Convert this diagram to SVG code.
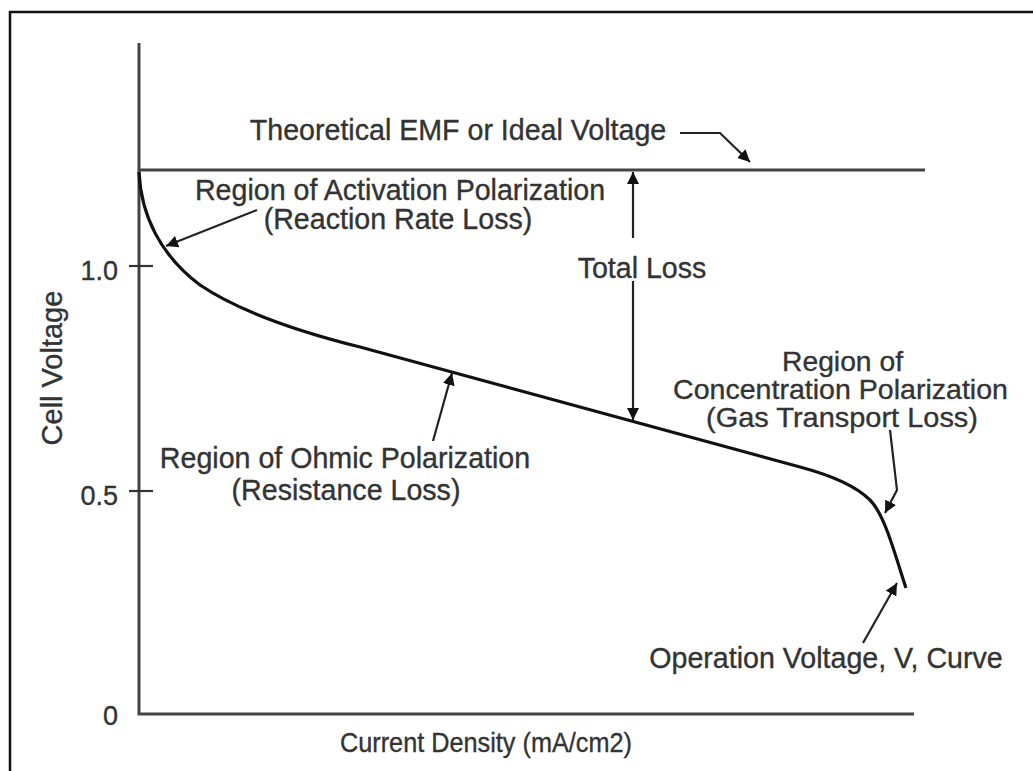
<svg xmlns="http://www.w3.org/2000/svg" width="1033" height="771" viewBox="0 0 1033 771">
<style>
  .t { font-family: "Liberation Sans", Arial, sans-serif; font-size: 28.6px; fill: #333; stroke: #333; stroke-width: 0.35; }
  .s { font-size: 27px; }
  .c { font-size: 27.5px; }
  .m { text-anchor: middle; }
  .e { text-anchor: end; }
  .axis { stroke: #444; stroke-width: 3; fill: none; }
  .ln { stroke: #333; stroke-width: 2.2; fill: none; }
  .arr { stroke: #222; stroke-width: 2.2; fill: none; marker-end: url(#ah); }
  .curve { stroke: #111; stroke-width: 3.2; fill: none; }
</style>
<defs>
  <marker id="ah" viewBox="0 0 10 10" refX="10" refY="5" markerWidth="5.5" markerHeight="5.5" orient="auto" markerUnits="strokeWidth">
    <path d="M0,0 L10,5 L0,10 z" fill="#111"/>
  </marker>
</defs>
<rect width="1033" height="771" fill="#fff"/>
<path d="M10,771 L10,12 L1033,12" stroke="#111" stroke-width="2.5" fill="none"/>

<g id="axes">
  <path class="axis" d="M139,43 L139,714 L914,714"/>
  <line class="ln" x1="129" y1="266" x2="153" y2="266"/>
  <line class="ln" x1="129" y1="491" x2="153" y2="491"/>
  <text class="t s e" x="118" y="280">1.0</text>
  <text class="t s e" x="118" y="505">0.5</text>
  <text class="t s e" x="118" y="725">0</text>
  <text class="t" x="340" y="752" style="font-size:28px" textLength="292" lengthAdjust="spacingAndGlyphs">Current Density (mA/cm2)</text>
  <text class="t m" transform="translate(62,368) rotate(-90)" style="font-size:29px">Cell Voltage</text>
</g>

<g id="emf">
  <line x1="139" y1="170" x2="925" y2="170" stroke="#444" stroke-width="2.8"/>
  <text class="t m" x="458" y="140">Theoretical EMF or Ideal Voltage</text>
</g>

<g id="curve">
  <path class="curve" d="M139,172 C141,215 160,255 200,285 C240,312 300,332 360,347 L800,467 C830,475 855,485 870,500 C885,515 895,555 906,588"/>
</g>

<g id="activation">
  <text class="t m" x="400" y="200">Region of Activation Polarization</text>
  <text class="t m" x="398" y="229">(Reaction Rate Loss)</text>
</g>

<g id="total-loss">
  <text class="t m" x="642" y="278">Total Loss</text>
</g>

<g id="ohmic">
  <text class="t m" x="345" y="468">Region of Ohmic Polarization</text>
  <text class="t m" x="346" y="500">(Resistance Loss)</text>
</g>

<g id="concentration">
  <text class="t c" x="782" y="371" textLength="121" lengthAdjust="spacingAndGlyphs">Region of</text>
  <text class="t c" x="673" y="399" textLength="335" lengthAdjust="spacingAndGlyphs">Concentration Polarization</text>
  <text class="t c" x="706" y="427" textLength="272" lengthAdjust="spacingAndGlyphs">(Gas Transport Loss)</text>
</g>

<g id="operation">
  <text class="t m" x="826" y="668">Operation Voltage, V, Curve</text>
</g>

<g id="connectors">
  <path class="arr" d="M680,133 L720,133 L750,162"/>
  <path class="arr" d="M257,210 L166,246"/>
  <path class="arr" d="M633,238 L633,172"/>
  <path class="arr" d="M633,281 L633,420"/>
  <path class="arr" d="M433,441 L452,373"/>
  <path class="arr" d="M890,430 L897,490 L885,513"/>
  <path class="arr" d="M863,643 L897,583"/>
</g>
</svg>
